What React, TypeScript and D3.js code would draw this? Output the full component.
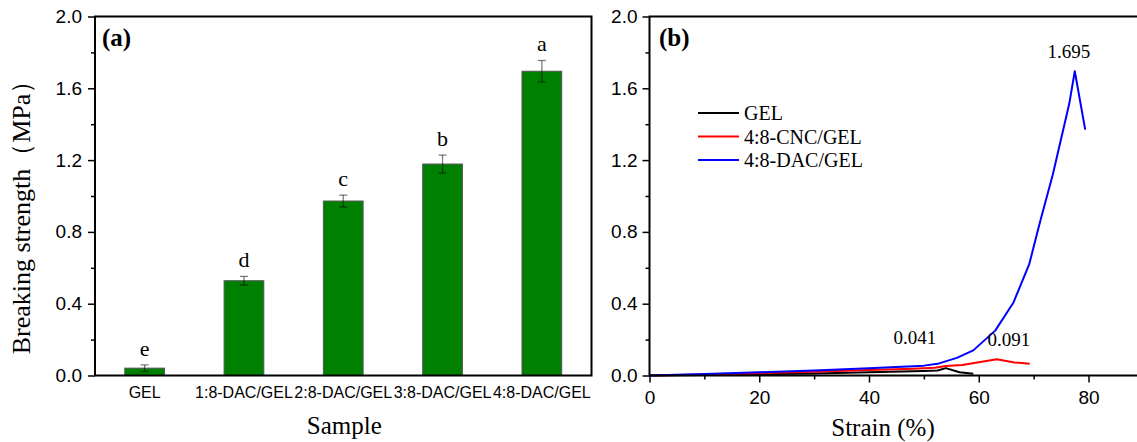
import React, { useEffect, useRef } from 'react';
import * as d3 from 'd3';

const categories = ['GEL', '1:8-DAC/GEL', '2:8-DAC/GEL', '3:8-DAC/GEL', '4:8-DAC/GEL'];
const strengthValues = [0.041, 0.528, 0.972, 1.178, 1.695];
const strengthErrors = [0.018, 0.024, 0.033, 0.05, 0.06];
const significance = ['e', 'd', 'c', 'b', 'a'];

const yTicks = [0, 0.4, 0.8, 1.2, 1.6, 2.0];
const yMinorTicks = [0.2, 0.6, 1.0, 1.4, 1.8];
const strainTicks = [0, 20, 40, 60, 80];
const strainMinorTicks = [10, 30, 50, 70, 90];

// [strain %, stress MPa]
const gelCurve: [number, number][] = [
  [0, 0], [10, 0.003], [20, 0.007], [30, 0.011], [40, 0.018], [50, 0.025],
  [52.5, 0.028], [54, 0.041], [56.5, 0.018], [59, 0.01],
];
const cncCurve: [number, number][] = [
  [0, 0], [10, 0.006], [20, 0.013], [30, 0.021], [40, 0.03], [48, 0.037],
  [52, 0.043], [54, 0.053], [57, 0.058], [60, 0.074], [63.3, 0.091], [66.5, 0.073], [69.3, 0.066],
];
const dacCurve: [number, number][] = [
  [0, 0], [10, 0.009], [20, 0.018], [30, 0.028], [40, 0.04], [45, 0.048], [50, 0.055],
  [52.5, 0.065], [56, 0.098], [59, 0.14], [63, 0.25], [66.3, 0.405], [69.2, 0.62],
  [71.2, 0.86], [73.5, 1.12], [76.5, 1.515], [77.5, 1.695], [79.4, 1.37],
];

const series = [
  { name: 'GEL', color: '#000000', data: gelCurve },
  { name: '4:8-CNC/GEL', color: '#ff0000', data: cncCurve },
  { name: '4:8-DAC/GEL', color: '#0000ff', data: dacCurve },
];

const annotations = [
  { text: '1.695', at: [77.5, 1.695], dx: -6, dy: -13 },
  { text: '0.041', at: [54, 0.041], dx: -31, dy: -24 },
  { text: '0.091', at: [63.3, 0.091], dx: 12, dy: -13 },
];

const SERIF = '"Liberation Serif", "Times New Roman", serif';
const SANS = '"Liberation Sans", Arial, sans-serif';

export default function App() {
  const svgRef = useRef<SVGSVGElement>(null);

  useEffect(() => {
    if (!svgRef.current) return;
    const svg = d3.select(svgRef.current);
    svg.selectAll('*').remove();

    const top = 16.5;
    const bottom = 375.5;

    const styleAxis = (g: any) => {
      g.selectAll('.domain').remove();
      g.selectAll('.tick line').attr('stroke', '#000').attr('stroke-width', 1.5);
      g.selectAll('text').attr('fill', '#000').style('font-family', SANS).style('font-size', '19px');
    };

    // ---------- Panel (a) ----------
    const aLeft = 95, aRight = 591.5;
    const xA = d3.scaleBand<string>().domain(categories).range([aLeft, aRight]).paddingInner(0.6).paddingOuter(0.3);
    const yA = d3.scaleLinear().domain([0, 2]).range([bottom, top]);

    const gA = svg.append('g');

    gA.selectAll('.bar')
      .data(categories)
      .enter().append('rect')
      .attr('x', d => xA(d) || 0)
      .attr('width', xA.bandwidth())
      .attr('y', (d, i) => yA(strengthValues[i]))
      .attr('height', (d, i) => bottom - yA(strengthValues[i]))
      .attr('fill', '#008000')
      .attr('stroke', '#555')
      .attr('stroke-width', 1);

    // error bars
    const err = gA.selectAll('.err').data(categories).enter().append('g')
      .attr('stroke', 'rgba(0,0,0,0.5)').attr('stroke-width', 1.3);
    err.append('line')
      .attr('x1', d => (xA(d) || 0) + xA.bandwidth() / 2)
      .attr('x2', d => (xA(d) || 0) + xA.bandwidth() / 2)
      .attr('y1', (d, i) => yA(strengthValues[i] - strengthErrors[i]))
      .attr('y2', (d, i) => yA(strengthValues[i] + strengthErrors[i]));
    [1, -1].forEach(s => {
      err.append('line')
        .attr('x1', d => (xA(d) || 0) + xA.bandwidth() / 2 - 4)
        .attr('x2', d => (xA(d) || 0) + xA.bandwidth() / 2 + 4)
        .attr('y1', (d, i) => yA(strengthValues[i] + s * strengthErrors[i]))
        .attr('y2', (d, i) => yA(strengthValues[i] + s * strengthErrors[i]));
    });

    gA.selectAll('.sig').data(categories).enter().append('text')
      .attr('x', d => (xA(d) || 0) + xA.bandwidth() / 2)
      .attr('y', (d, i) => yA(strengthValues[i] + strengthErrors[i]) - 9)
      .attr('text-anchor', 'middle')
      .style('font-family', SERIF).style('font-size', '22px')
      .text((d, i) => significance[i]);

    // y axis (a)
    gA.append('g').attr('transform', `translate(${aLeft},0)`)
      .call(d3.axisLeft(yA).tickValues(yTicks).tickSize(7).tickPadding(6).tickFormat(d3.format('.1f')))
      .call(styleAxis);
    gA.append('g').attr('transform', `translate(${aLeft},0)`)
      .call(d3.axisLeft(yA).tickValues(yMinorTicks).tickSize(4).tickFormat(() => ''))
      .call(styleAxis);

    // x labels (a)
    gA.append('g').attr('transform', `translate(0,${bottom})`)
      .call(d3.axisBottom(xA).tickSize(0).tickPadding(11))
      .call(styleAxis)
      .selectAll('text').style('font-size', '16px');

    gA.append('rect')
      .attr('x', aLeft).attr('y', top).attr('width', aRight - aLeft).attr('height', bottom - top)
      .attr('fill', 'none').attr('stroke', '#000').attr('stroke-width', 2);

    gA.append('text').attr('x', 102).attr('y', 46)
      .style('font-family', SERIF).style('font-size', '25px').style('font-weight', 'bold')
      .text('(a)');
    gA.append('text')
      .attr('transform', `translate(30,${(top + bottom) / 2 + 15}) rotate(-90)`)
      .attr('text-anchor', 'middle')
      .style('font-family', SERIF).style('font-size', '26px')
      .text('Breaking strength（MPa）');
    gA.append('text').attr('x', (aLeft + aRight) / 2 + 1).attr('y', 434)
      .attr('text-anchor', 'middle')
      .style('font-family', SERIF).style('font-size', '25px')
      .text('Sample');

    // ---------- Panel (b) ----------
    const bLeft = 649.5;
    const xB = d3.scaleLinear().domain([0, 80]).range([bLeft, 1088.5]);
    const bRight = xB(90);
    const yB = d3.scaleLinear().domain([0, 2]).range([bottom, top]);

    const gB = svg.append('g');

    gB.append('g').attr('transform', `translate(${bLeft},0)`)
      .call(d3.axisLeft(yB).tickValues(yTicks).tickSize(7).tickPadding(5).tickFormat(d3.format('.1f')))
      .call(styleAxis);
    gB.append('g').attr('transform', `translate(${bLeft},0)`)
      .call(d3.axisLeft(yB).tickValues(yMinorTicks).tickSize(4).tickFormat(() => ''))
      .call(styleAxis);
    gB.append('g').attr('transform', `translate(0,${bottom})`)
      .call(d3.axisBottom(xB).tickValues(strainTicks).tickSize(7).tickPadding(8).tickFormat(d3.format('d')))
      .call(styleAxis);
    gB.append('g').attr('transform', `translate(0,${bottom})`)
      .call(d3.axisBottom(xB).tickValues(strainMinorTicks).tickSize(4).tickFormat(() => ''))
      .call(styleAxis);

    const line = d3.line<[number, number]>().x(d => xB(d[0])).y(d => yB(d[1]));
    series.forEach(s => {
      gB.append('path')
        .datum(s.data)
        .attr('d', line)
        .attr('fill', 'none')
        .attr('stroke', s.color)
        .attr('stroke-width', 2)
        .attr('stroke-linejoin', 'round');
    });

    gB.append('rect')
      .attr('x', bLeft).attr('y', top).attr('width', bRight - bLeft).attr('height', bottom - top)
      .attr('fill', 'none').attr('stroke', '#000').attr('stroke-width', 2);

    // legend
    series.forEach((s, i) => {
      const ly = 113 + i * 23.5;
      gB.append('line').attr('x1', 698).attr('x2', 739).attr('y1', ly).attr('y2', ly)
        .attr('stroke', s.color).attr('stroke-width', 2);
      gB.append('text').attr('x', 744).attr('y', ly + 7)
        .style('font-family', SERIF).style('font-size', '20px')
        .text(s.name);
    });

    annotations.forEach(a => {
      gB.append('text')
        .attr('x', xB(a.at[0]) + a.dx)
        .attr('y', yB(a.at[1]) + a.dy)
        .attr('text-anchor', 'middle')
        .style('font-family', SERIF).style('font-size', '19px')
        .text(a.text);
    });

    gB.append('text').attr('x', 659).attr('y', 46)
      .style('font-family', SERIF).style('font-size', '25px').style('font-weight', 'bold')
      .text('(b)');
    gB.append('text').attr('x', 883).attr('y', 436)
      .attr('text-anchor', 'middle')
      .style('font-family', SERIF).style('font-size', '25px')
      .text('Strain (%)');
  }, []);

  return (
    <svg
      ref={svgRef}
      width={1137}
      height={442}
      viewBox="0 0 1137 442"
      style={{ position: 'absolute', left: 0, top: 0, background: '#fff' }}
    />
  );
}
